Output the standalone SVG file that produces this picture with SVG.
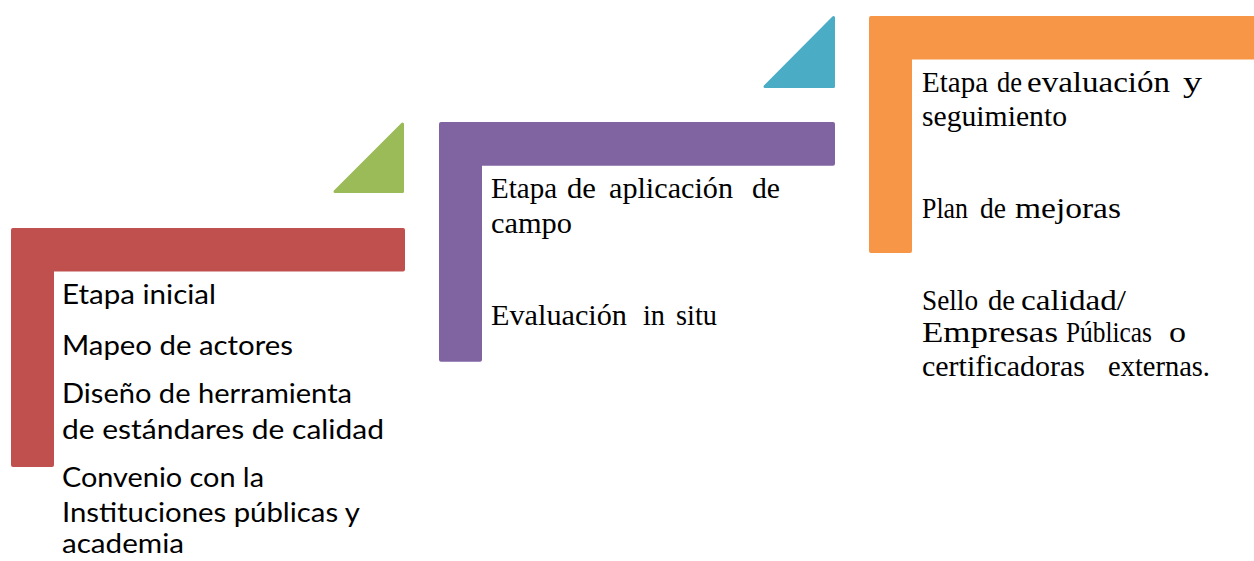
<svg xmlns="http://www.w3.org/2000/svg" width="1254" height="561" viewBox="0 0 1254 561">
<style>
.sans{font-family:Lato,"Liberation Sans",sans-serif;font-size:26px;fill:#000}
.serif{font-family:"Liberation Serif","Times New Roman",serif;font-size:30px;fill:#000}
.tri{stroke-width:3;stroke-linejoin:round}
</style>
<rect width="1254" height="561" fill="#fff"/>
<g id="connectors">
<polygon class="tri" points="335,191.5 402.5,124 402.5,191.5" fill="#9BBB59" stroke="#9BBB59"/>
<polygon class="tri" points="765,86.5 833.5,17.5 833.5,86.5" fill="#4BACC6" stroke="#4BACC6"/>
</g>
<g id="stage1">
<path d="M11,230 Q11,228 13,228 H403 Q405,228 405,230 V269.5 Q405,271.5 403,271.5 H54 V465 Q54,467 52,467 H13 Q11,467 11,465 Z" fill="#C0504D"/>
<text class="sans" x="62" y="304.3" textLength="154" lengthAdjust="spacingAndGlyphs">Etapa inicial</text>
<text class="sans" x="62" y="355" textLength="231" lengthAdjust="spacingAndGlyphs">Mapeo de actores</text>
<text class="sans" x="62" y="402.7" textLength="290" lengthAdjust="spacingAndGlyphs">Diseño de herramienta</text>
<text class="sans" x="62" y="438.7" textLength="322" lengthAdjust="spacingAndGlyphs">de estándares de calidad</text>
<text class="sans" x="62" y="486.7" textLength="202" lengthAdjust="spacingAndGlyphs">Convenio con la</text>
<text class="sans" x="62" y="521.7" textLength="298" lengthAdjust="spacingAndGlyphs">Instituciones públicas y</text>
<text class="sans" x="62" y="553" textLength="122" lengthAdjust="spacingAndGlyphs">academia</text>
</g>
<g id="stage2">
<path d="M439,124 Q439,122 441,122 H833 Q835,122 835,124 V163.7 Q835,165.7 833,165.7 H482 V359.7 Q482,361.7 480,361.7 H441 Q439,361.7 439,359.7 Z" fill="#8064A2"/>
<text class="serif" y="198"><tspan x="491" textLength="66" lengthAdjust="spacingAndGlyphs">Etapa</tspan> <tspan x="567" textLength="29" lengthAdjust="spacingAndGlyphs">de</tspan> <tspan x="609" textLength="124" lengthAdjust="spacingAndGlyphs">aplicación</tspan> <tspan x="752" textLength="28" lengthAdjust="spacingAndGlyphs">de</tspan></text>
<text class="serif" x="491" y="232.5" textLength="81" lengthAdjust="spacingAndGlyphs">campo</text>
<text class="serif" y="324.5"><tspan x="491" textLength="136" lengthAdjust="spacingAndGlyphs">Evaluación</tspan> <tspan x="643" textLength="22" lengthAdjust="spacingAndGlyphs">in</tspan> <tspan x="676" textLength="41" lengthAdjust="spacingAndGlyphs">situ</tspan></text>
</g>
<g id="stage3">
<path d="M869,18 Q869,16 871,16 H1256 V59.5 H912 V251 Q912,253 910,253 H871 Q869,253 869,251 Z" fill="#F79646"/>
<text class="serif" y="92"><tspan x="922" textLength="66" lengthAdjust="spacingAndGlyphs">Etapa</tspan> <tspan x="997" textLength="25" lengthAdjust="spacingAndGlyphs">de</tspan> <tspan x="1027" textLength="143" lengthAdjust="spacingAndGlyphs">evaluación</tspan> <tspan x="1183" textLength="19" lengthAdjust="spacingAndGlyphs">y</tspan></text>
<text class="serif" x="922" y="125.5" textLength="145" lengthAdjust="spacingAndGlyphs">seguimiento</text>
<text class="serif" y="217.5"><tspan x="922" textLength="46" lengthAdjust="spacingAndGlyphs">Plan</tspan> <tspan x="980" textLength="26" lengthAdjust="spacingAndGlyphs">de</tspan> <tspan x="1015" textLength="106" lengthAdjust="spacingAndGlyphs">mejoras</tspan></text>
<text class="serif" y="310"><tspan x="922" textLength="56" lengthAdjust="spacingAndGlyphs">Sello</tspan> <tspan x="988" textLength="27" lengthAdjust="spacingAndGlyphs">de</tspan> <tspan x="1021" textLength="105" lengthAdjust="spacingAndGlyphs">calidad/</tspan></text>
<text class="serif" y="341.5"><tspan x="922" textLength="136" lengthAdjust="spacingAndGlyphs">Empresas</tspan> <tspan x="1066" textLength="86" lengthAdjust="spacingAndGlyphs">Públicas</tspan> <tspan x="1169" textLength="17" lengthAdjust="spacingAndGlyphs">o</tspan></text>
<text class="serif" y="375.5"><tspan x="922" textLength="163" lengthAdjust="spacingAndGlyphs">certificadoras</tspan> <tspan x="1108" textLength="102" lengthAdjust="spacingAndGlyphs">externas.</tspan></text>
</g>
</svg>
